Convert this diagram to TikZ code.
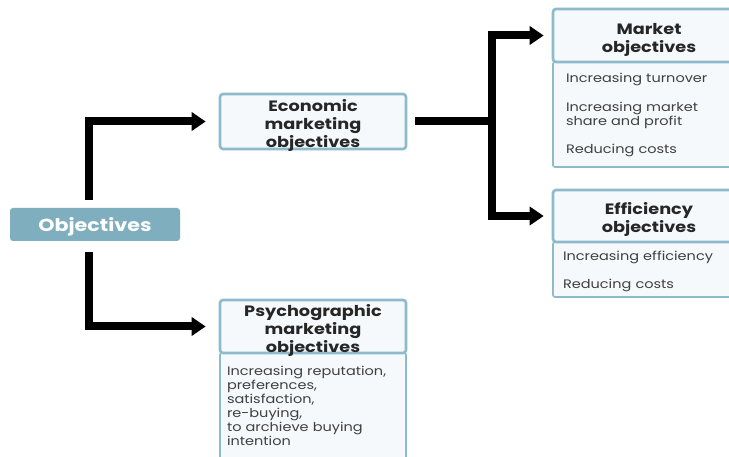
\documentclass[tikz,border=0pt]{standalone}
\usepackage{fontspec}
\setmainfont{Poppins}[FakeStretch=1.18]
\usetikzlibrary{arrows.meta}
\definecolor{bordc}{HTML}{8DBBCB}
\definecolor{objfill}{HTML}{7FAEBF}
\definecolor{boxfill}{HTML}{F5F9FB}
\definecolor{headtxt}{HTML}{262626}
\definecolor{bodytxt}{HTML}{404040}
\newcommand\myhstrut{\rule{0pt}{15.5pt}}
\tikzset{
  objbox/.style={draw=none, fill=objfill, rounded corners=3pt, minimum width=170pt, minimum height=33pt,
    text=white, font=\fontsize{17.5}{20}\selectfont\bfseries, inner sep=0pt, text height=17pt, text depth=3.5pt},
  headbox/.style={draw=bordc, line width=2.6pt, fill=boxfill, rounded corners=3pt, minimum width=186pt,
    align=center, text=headtxt, font=\fontsize{15}{18}\selectfont\bfseries, inner sep=0pt, text depth=0pt},
  bodybox/.style={draw=bordc, line width=1.6pt, fill=boxfill, rounded corners=2pt, minimum width=186pt,
    align=left, text=bodytxt, font=\fontsize{12.3}{14}\selectfont, inner xsep=10pt, inner ysep=0pt,
    text width=166pt},
  conn/.style={line width=8pt, draw=black},
  arr/.style={conn, -{Triangle[length=14pt,width=18pt]}}
}
\begin{document}
\begin{tikzpicture}[x=1pt,y=-1pt]
\useasboundingbox[fill=white] (0,0) rectangle (729,457);
% boxes
\node[objbox] (obj) at (95,224.5) {Objectives};
\node[headbox, minimum height=55pt] (econ) at (313,121.5) {\myhstrut Economic\\marketing\\objectives};
\node[bodybox, minimum height=105pt, text width=166pt, inner xsep=13pt, minimum width=192pt] (mktb) at (649,114.5)
  {Increasing turnover\\[15pt]Increasing market\\share and profit\\[14pt]Reducing costs};
\node[headbox, minimum height=53pt, minimum width=192pt] (mkt) at (649,35.5) {\myhstrut Market\\objectives};
\node[bodybox, minimum height=55pt, text width=172pt, minimum width=192pt] (effb) at (649,269.5)
  {\rule{0pt}{13.5pt}Increasing efficiency\\[14pt]Reducing costs};
\node[headbox, minimum height=52pt, minimum width=192pt] (eff) at (649,216) {\myhstrut Efficiency\\objectives};
\node[bodybox, minimum height=106pt, text width=172pt, inner xsep=7pt] (psyb) at (313,406)
  {Increasing reputation,\\preferences,\\satisfaction,\\re-buying,\\to archieve buying\\intention};
\node[headbox, minimum height=53pt] (psy) at (313,326.5) {\myhstrut Psychographic\\marketing\\objectives};
% connectors
\coordinate (fork) at (492,121.5);
\draw[arr, shorten <=8pt, shorten >=13pt] ([xshift=-6pt]obj.north) |- (econ.west);
\draw[arr, shorten <=11pt, shorten >=13pt] ([xshift=-6pt]obj.south) |- (psy.west);
\draw[conn, shorten <=8pt] (econ.east) -- (fork);
\draw[arr, shorten >=8pt] (fork) |- (mkt.west);
\draw[arr, shorten >=8pt] (fork) |- (eff.west);
\end{tikzpicture}
\end{document}
